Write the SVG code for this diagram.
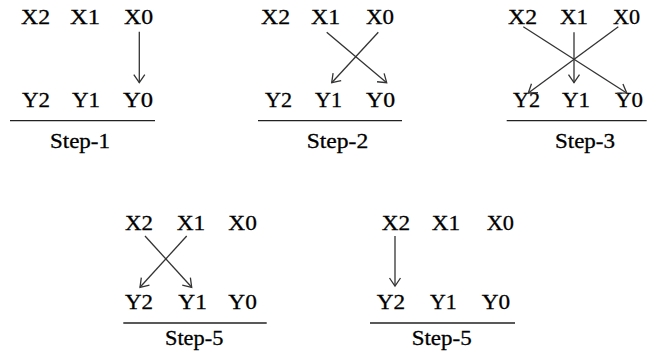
<svg xmlns="http://www.w3.org/2000/svg" width="652" height="351" viewBox="0 0 652 351">
<defs>
<style>
text{font-family:"Liberation Serif","Times New Roman",serif;font-size:21px;fill:#000;stroke:#000;stroke-width:0.3}
.c{stroke:#333;stroke-width:1.3;fill:none;marker-end:url(#ah)}
.rule{stroke:#222;stroke-width:1.3}
</style>
<marker id="ah" markerUnits="userSpaceOnUse" viewBox="-10 -7 12 14" refX="0" refY="0" markerWidth="12" markerHeight="14" orient="auto">
<path d="M-8,-5.5 L0,0 L-8,5.5" fill="none" stroke="#333" stroke-width="1.3"/>
</marker>
</defs>
<rect width="652" height="351" fill="#fff"/>

<g id="step1">
<text x="21" y="24" textLength="29" lengthAdjust="spacingAndGlyphs">X2</text>
<text x="70" y="24" textLength="30" lengthAdjust="spacingAndGlyphs">X1</text>
<text x="124" y="24" textLength="29" lengthAdjust="spacingAndGlyphs">X0</text>
<text x="22" y="106.5" textLength="28" lengthAdjust="spacingAndGlyphs">Y2</text>
<text x="72" y="106.5" textLength="28" lengthAdjust="spacingAndGlyphs">Y1</text>
<text x="123" y="106.5" textLength="30" lengthAdjust="spacingAndGlyphs">Y0</text>
<line class="rule" x1="10" y1="120.7" x2="155" y2="120.7"/>
<text x="50" y="147.5" textLength="60" lengthAdjust="spacingAndGlyphs">Step-1</text>
</g>

<g id="step2">
<text x="261" y="24" textLength="29" lengthAdjust="spacingAndGlyphs">X2</text>
<text x="311" y="24" textLength="29" lengthAdjust="spacingAndGlyphs">X1</text>
<text x="366" y="24" textLength="28" lengthAdjust="spacingAndGlyphs">X0</text>
<text x="265" y="106.5" textLength="27" lengthAdjust="spacingAndGlyphs">Y2</text>
<text x="315" y="106.5" textLength="27" lengthAdjust="spacingAndGlyphs">Y1</text>
<text x="366" y="106.5" textLength="29" lengthAdjust="spacingAndGlyphs">Y0</text>
<line class="rule" x1="258" y1="120.7" x2="402" y2="120.7"/>
<text x="306.7" y="147.5" textLength="61.5" lengthAdjust="spacingAndGlyphs">Step-2</text>
</g>

<g id="step3">
<text x="508" y="24" textLength="29" lengthAdjust="spacingAndGlyphs">X2</text>
<text x="560" y="24" textLength="28" lengthAdjust="spacingAndGlyphs">X1</text>
<text x="613" y="24" textLength="27" lengthAdjust="spacingAndGlyphs">X0</text>
<text x="513" y="106.5" textLength="27" lengthAdjust="spacingAndGlyphs">Y2</text>
<text x="562" y="106.5" textLength="28" lengthAdjust="spacingAndGlyphs">Y1</text>
<text x="615" y="106.5" textLength="28" lengthAdjust="spacingAndGlyphs">Y0</text>
<line class="rule" x1="506.7" y1="120.7" x2="646.7" y2="120.7"/>
<text x="555" y="147.5" textLength="60" lengthAdjust="spacingAndGlyphs">Step-3</text>
</g>

<g id="step5a">
<text x="125" y="230" textLength="28" lengthAdjust="spacingAndGlyphs">X2</text>
<text x="176.7" y="230" textLength="28.5" lengthAdjust="spacingAndGlyphs">X1</text>
<text x="228.3" y="230" textLength="28.5" lengthAdjust="spacingAndGlyphs">X0</text>
<text x="125" y="309" textLength="28" lengthAdjust="spacingAndGlyphs">Y2</text>
<text x="178.3" y="309" textLength="28.5" lengthAdjust="spacingAndGlyphs">Y1</text>
<text x="228.3" y="309" textLength="28.5" lengthAdjust="spacingAndGlyphs">Y0</text>
<line class="rule" x1="123.3" y1="323" x2="266.7" y2="323"/>
<text x="165" y="345" textLength="58.3" lengthAdjust="spacingAndGlyphs">Step-5</text>
</g>

<g id="step5b">
<text x="381.7" y="230" textLength="28.3" lengthAdjust="spacingAndGlyphs">X2</text>
<text x="431.7" y="230" textLength="28.3" lengthAdjust="spacingAndGlyphs">X1</text>
<text x="486.7" y="230" textLength="27.3" lengthAdjust="spacingAndGlyphs">X0</text>
<text x="376.7" y="309" textLength="28.3" lengthAdjust="spacingAndGlyphs">Y2</text>
<text x="430" y="309" textLength="26.7" lengthAdjust="spacingAndGlyphs">Y1</text>
<text x="481.7" y="309" textLength="28.3" lengthAdjust="spacingAndGlyphs">Y0</text>
<line class="rule" x1="370" y1="323" x2="515" y2="323"/>
<text x="411.7" y="345" textLength="60" lengthAdjust="spacingAndGlyphs">Step-5</text>
</g>

<g id="connectors">
<line class="c" x1="139.3" y1="31.7" x2="139.3" y2="82.7"/>
<line class="c" x1="326.7" y1="32.3" x2="386.7" y2="82.7"/>
<line class="c" x1="378.3" y1="32.3" x2="331.7" y2="82.7"/>
<line class="c" x1="523.3" y1="26.7" x2="626.7" y2="93"/>
<line class="c" x1="618.3" y1="26.7" x2="528.3" y2="93"/>
<line class="c" x1="574" y1="32.3" x2="574" y2="82.7"/>
<line class="c" x1="145" y1="236" x2="191.7" y2="287.3"/>
<line class="c" x1="186.7" y1="236" x2="140" y2="287.3"/>
<line class="c" x1="395" y1="236" x2="395" y2="286"/>
</g>
</svg>
